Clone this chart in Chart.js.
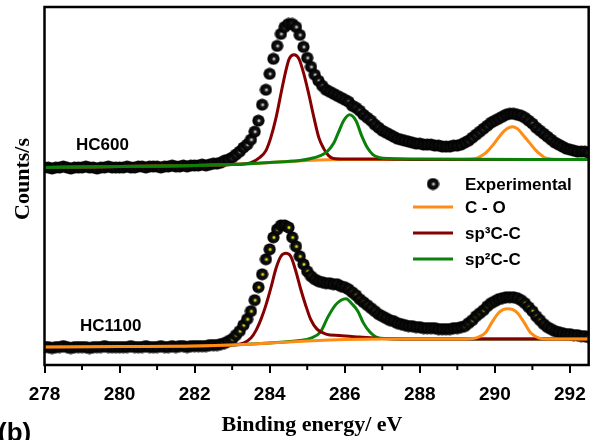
<!DOCTYPE html>
<html>
<head>
<meta charset="utf-8">
<title>C 1s XPS - HC600 / HC1100</title>
<script src="https://cdn.jsdelivr.net/npm/chart.js@4.4.1/dist/chart.umd.min.js"></script>
<style>
  html, body { margin: 0; padding: 0; background: #fff; }
  #xps { display: block; }
</style>
</head>
<body>
<canvas id="xps" width="596" height="440"></canvas>
<script>
// binding energy of the measured points (eV)
const energy = [
  278.0, 278.1, 278.2, 278.3, 278.4, 278.5, 278.6, 278.7, 278.8, 278.9,
  279.0, 279.1, 279.2, 279.3, 279.4, 279.5, 279.6, 279.7, 279.8, 279.9,
  280.0, 280.1, 280.2, 280.3, 280.4, 280.5, 280.6, 280.7, 280.8, 280.9,
  281.0, 281.1, 281.2, 281.3, 281.4, 281.5, 281.6, 281.7, 281.8, 281.9,
  282.0, 282.1, 282.2, 282.3, 282.4, 282.5, 282.6, 282.7, 282.8, 282.9,
  283.0, 283.1, 283.2, 283.3, 283.4, 283.5, 283.6, 283.7, 283.8, 283.9,
  284.0, 284.1, 284.2, 284.3, 284.4, 284.5, 284.6, 284.7, 284.8, 284.9,
  285.0, 285.1, 285.2, 285.3, 285.4, 285.5, 285.6, 285.7, 285.8, 285.9,
  286.0, 286.1, 286.2, 286.3, 286.4, 286.5, 286.6, 286.7, 286.8, 286.9,
  287.0, 287.1, 287.2, 287.3, 287.4, 287.5, 287.6, 287.7, 287.8, 287.9,
  288.0, 288.1, 288.2, 288.3, 288.4, 288.5, 288.6, 288.7, 288.8, 288.9,
  289.0, 289.1, 289.2, 289.3, 289.4, 289.5, 289.6, 289.7, 289.8, 289.9,
  290.0, 290.1, 290.2, 290.3, 290.4, 290.5, 290.6, 290.7, 290.8, 290.9,
  291.0, 291.1, 291.2, 291.3, 291.4, 291.5, 291.6, 291.7, 291.8, 291.9,
  292.0, 292.1, 292.2, 292.3, 292.4, 292.5
];

// measured counts (arbitrary units, HC600 spectrum is offset upwards)
const hc600Counts = [
  198, 198, 197, 198, 198, 199, 198, 197, 198, 198,
  198, 199, 198, 198, 197, 198, 198, 199, 198, 198,
  198, 198, 199, 198, 198, 199, 199, 198, 199, 199,
  199, 198, 199, 199, 200, 199, 199, 200, 199, 200,
  200, 200, 201, 200, 201, 202, 202, 203, 205, 206,
  208, 211, 214, 218, 221, 226, 234, 245, 261, 276,
  292, 307, 320, 332, 339, 342, 342, 339, 331, 319,
  308, 299, 291, 285, 280, 276, 274, 272, 270, 268,
  266, 264, 260, 258, 255, 251, 248, 245, 241, 238,
  235, 233, 231, 229, 227, 226, 225, 224, 223, 222,
  222, 221, 221, 221, 220, 220, 219, 219, 219, 220,
  220, 221, 223, 225, 228, 231, 234, 237, 240, 243,
  245, 247, 249, 251, 252, 252, 251, 250, 248, 245,
  242, 238, 235, 232, 229, 226, 223, 221, 219, 217,
  216, 215, 214, 214, 214, 213
];

const hc1100Counts = [
  18, 18, 17, 18, 18, 19, 18, 17, 18, 18,
  18, 18, 17, 18, 18, 18, 19, 18, 18, 18,
  18, 18, 18, 19, 18, 18, 18, 19, 18, 18,
  18, 19, 18, 18, 19, 18, 19, 19, 18, 19,
  19, 19, 19, 19, 20, 20, 20, 21, 22, 24,
  26, 30, 34, 40, 46, 54, 65, 78, 91, 106,
  116, 128, 136, 140, 140, 138, 128, 119, 109, 101,
  94, 89, 86, 84, 83, 82, 82, 81, 81, 79,
  78, 76, 73, 70, 66, 63, 60, 57, 54, 51,
  49, 47, 45, 44, 42, 41, 40, 39, 39, 38,
  38, 37, 37, 37, 37, 36, 36, 36, 36, 37,
  37, 38, 39, 42, 45, 49, 52, 55, 59, 62,
  64, 66, 67, 68, 68, 68, 67, 65, 62, 58,
  54, 49, 45, 41, 38, 36, 34, 33, 32, 31,
  31, 30, 30, 29, 29, 28
];

// fitted components on their background, [eV, counts]
const hc600CO = [
  [278, 198], [280, 199], [282, 200], [283, 201], [284, 203], [285, 205], [286, 206],
  [289, 206], [289.4, 206.5], [289.56, 208], [289.7, 211], [289.82, 215], [290.0, 223],
  [290.18, 232], [290.32, 237], [290.47, 239], [290.6, 237], [290.7, 233], [290.92, 223],
  [291.1, 215], [291.22, 211], [291.32, 208], [291.5, 206.5], [292, 206], [292.5, 206]
];
const hc600Sp3 = [
  [278, 198], [280, 199], [282, 200], [283, 201], [283.5, 203], [283.73, 208], [283.9, 215],
  [284.03, 228], [284.17, 248], [284.3, 272], [284.43, 295], [284.52, 307], [284.65, 311],
  [284.78, 307], [284.91, 292], [285.04, 272], [285.18, 248], [285.31, 228], [285.44, 217],
  [285.57, 210], [285.7, 207], [286, 206.5], [287, 206.5], [288, 206], [292.5, 206]
];
const hc600Sp2 = [
  [278, 198], [280, 199], [282, 200], [283, 201], [284, 203], [284.8, 205], [285.1, 207],
  [285.35, 210], [285.53, 214], [285.7, 222], [285.83, 233], [285.97, 245], [286.13, 251],
  [286.3, 245], [286.45, 230], [286.6, 218], [286.75, 211], [286.93, 208], [287.2, 207],
  [288, 206.5], [292.5, 206]
];
const hc1100CO = [
  [278, 18], [280, 18.5], [282, 19], [283, 20], [284, 22], [285, 24], [286, 25.5], [287, 26],
  [289, 26], [289.4, 26.5], [289.56, 28], [289.74, 32], [289.91, 42], [290.09, 52],
  [290.22, 55.5], [290.35, 56.5], [290.48, 55.5], [290.61, 52], [290.79, 42], [290.96, 32],
  [291.18, 27], [291.4, 26], [292.5, 26]
];
const hc1100Sp3 = [
  [278, 18], [280, 18.5], [282, 19], [283, 20], [283.3, 22], [283.5, 27], [283.64, 35],
  [283.77, 46], [283.9, 60], [284.03, 77], [284.17, 97], [284.3, 109], [284.43, 112],
  [284.56, 109], [284.69, 95], [284.82, 77], [284.95, 61], [285.09, 46], [285.26, 36],
  [285.5, 31], [285.85, 29.5], [286.4, 28], [287, 26.5], [288, 26], [292.5, 26]
];
const hc1100Sp2 = [
  [278, 18], [280, 18.5], [282, 19], [283, 20], [284, 22], [284.8, 24.5], [285.1, 27],
  [285.35, 33], [285.55, 48], [285.75, 60], [285.9, 65], [286.03, 66.5], [286.2, 61],
  [286.35, 54], [286.5, 42], [286.67, 33], [286.84, 28], [287.1, 26.5], [288, 26], [292.5, 26]
];

const seriesNames = ['Experimental', 'C - O', 'sp\u00b3C-C', 'sp\u00b2C-C'];
const sampleNames = ['HC600', 'HC1100'];
const minorTicks = [279, 281, 283, 285, 287, 289, 291];

const orange = '#ff8c14';
const darkRed = '#850000';
const green = '#0b800b';
const sansBold = 'bold 17px "Liberation Sans", Arial, sans-serif';

// little shaded ball used as the point marker
function makeBall(glow, mid) {
  const c = document.createElement('canvas');
  c.width = 13;
  c.height = 13;
  const g = c.getContext('2d');
  const grad = g.createRadialGradient(7, 6.6, 0, 7, 6.6, 6.1);
  grad.addColorStop(0, glow);
  grad.addColorStop(0.17, mid);
  grad.addColorStop(0.34, '#141414');
  grad.addColorStop(1, '#000');
  g.fillStyle = grad;
  g.beginPath();
  g.arc(6.5, 6.5, 6.1, 0, Math.PI * 2);
  g.fill();
  return c;
}
const greyBall = makeBall('#ffffff', '#9c9c9c');
const yellowBall = makeBall('#ffff40', '#b8b800');

function toPoints(xs, ys) {
  return xs.map(function (x, i) { return { x: x, y: ys[i] }; });
}
function pairs(list) {
  return list.map(function (p) { return { x: p[0], y: p[1] }; });
}
function fitLine(label, data, color, order) {
  return {
    label: label,
    data: pairs(data),
    borderColor: color,
    borderWidth: 3,
    pointRadius: 0,
    fill: false,
    cubicInterpolationMode: 'monotone',
    clip: 0,
    order: order
  };
}
function dotSeries(label, data, ball) {
  return {
    label: label,
    data: data,
    showLine: false,
    pointStyle: ball,
    pointRadius: 6,
    clip: 0,
    order: 10
  };
}

const decor = {
  id: 'decor',
  afterDatasetsDraw: function (chart) {
    const ctx = chart.ctx;
    const a = chart.chartArea;
    const xs = chart.scales.x;
    ctx.save();
    ctx.strokeStyle = '#000';
    ctx.lineWidth = 2.5;
    ctx.strokeRect(a.left, a.top, a.right - a.left, a.bottom - a.top);

    ctx.lineWidth = 2;
    minorTicks.forEach(function (v) {
      const px = xs.getPixelForValue(v);
      ctx.beginPath();
      ctx.moveTo(px, a.bottom);
      ctx.lineTo(px, a.bottom + 5);
      ctx.stroke();
    });

    ctx.fillStyle = '#000';
    ctx.font = sansBold;
    ctx.textAlign = 'left';
    ctx.textBaseline = 'alphabetic';
    ctx.fillText(sampleNames[0], 76, 150);
    ctx.fillText(sampleNames[1], 80, 331);

    // legend
    const rows = [184, 207, 233, 259];
    const lineColors = [null, orange, darkRed, green];
    rows.forEach(function (y, i) {
      if (i === 0) {
        ctx.drawImage(greyBall, 433 - 6.5, y - 6.5);
      } else {
        ctx.strokeStyle = lineColors[i];
        ctx.lineWidth = 3;
        ctx.beginPath();
        ctx.moveTo(413, y);
        ctx.lineTo(453, y);
        ctx.stroke();
      }
      ctx.textBaseline = 'middle';
      ctx.fillText(seriesNames[i], 465, y + 1);
    });

    // axis titles
    ctx.font = 'bold 22px "Liberation Serif", "Times New Roman", serif';
    ctx.textAlign = 'center';
    ctx.textBaseline = 'alphabetic';
    ctx.fillText('Binding energy/ eV', 312, 431);
    ctx.save();
    ctx.translate(29, 179);
    ctx.rotate(-Math.PI / 2);
    ctx.fillText('Counts/s', 0, 0);
    ctx.restore();

    ctx.font = 'bold 26px "Liberation Sans", Arial, sans-serif';
    ctx.textAlign = 'left';
    ctx.fillText('(b)', -2, 441);
    ctx.restore();
  }
};

new Chart(document.getElementById('xps'), {
  type: 'line',
  data: {
    datasets: [
      fitLine(seriesNames[3], hc600Sp2, green, 1),
      fitLine(seriesNames[2], hc600Sp3, darkRed, 2),
      fitLine(seriesNames[1], hc600CO, orange, 3),
      fitLine(seriesNames[1], hc1100CO, orange, 1),
      fitLine(seriesNames[2], hc1100Sp3, darkRed, 2),
      fitLine(seriesNames[3], hc1100Sp2, green, 3),
      dotSeries(seriesNames[0] + ' ' + sampleNames[0], toPoints(energy, hc600Counts), greyBall),
      dotSeries(seriesNames[0] + ' ' + sampleNames[1], toPoints(energy, hc1100Counts), yellowBall)
    ]
  },
  options: {
    responsive: false,
    animation: false,
    devicePixelRatio: 1,
    layout: { padding: { left: 44.5, right: 1, top: 6, bottom: 0 } },
    plugins: {
      legend: { display: false },
      tooltip: { enabled: false }
    },
    scales: {
      x: {
        type: 'linear',
        min: 278,
        max: 292.5,
        afterFit: function (scale) { scale.height = 75; },
        border: { display: false },
        grid: {
          drawOnChartArea: false,
          drawTicks: true,
          tickLength: 8,
          color: '#000',
          lineWidth: 2
        },
        ticks: {
          stepSize: 2,
          includeBounds: false,
          autoSkip: false,
          maxRotation: 0,
          padding: 10,
          color: '#000',
          font: { family: '"Liberation Sans", Arial, sans-serif', size: 19, weight: 'bold' }
        }
      },
      y: {
        display: false,
        min: 0,
        max: 359
      }
    }
  },
  plugins: [decor]
});
</script>
</body>
</html>
